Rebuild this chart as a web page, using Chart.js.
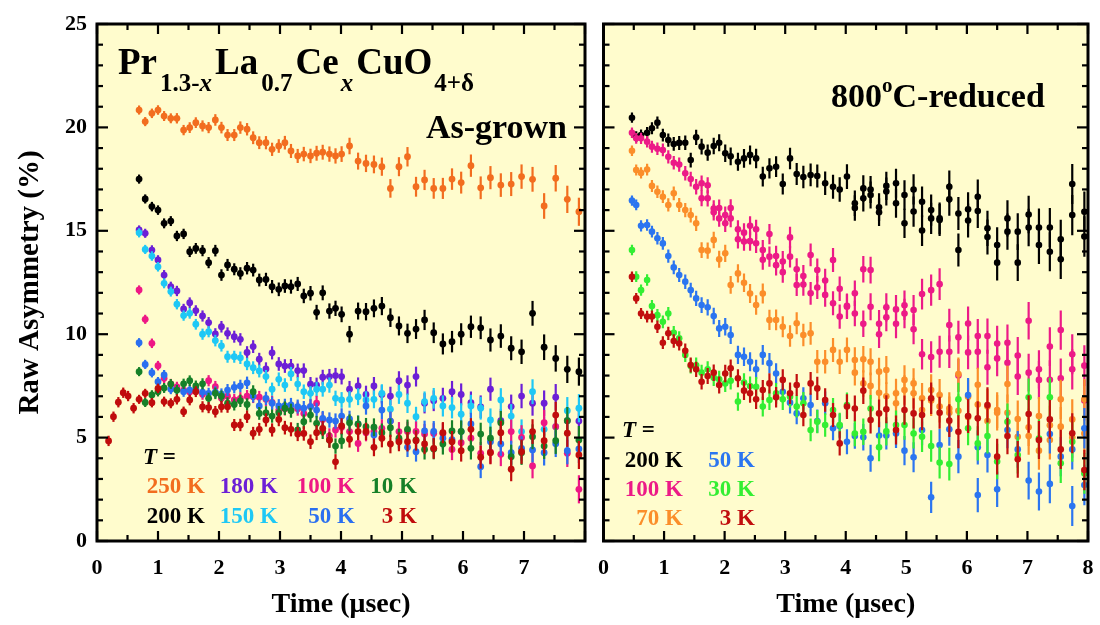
<!DOCTYPE html>
<html>
<head>
<meta charset="utf-8">
<script src="https://cdn.jsdelivr.net/npm/chart.js@4.4.0/dist/chart.umd.min.js"></script>
<style>
  body { margin: 0; background: #fff; width: 1100px; height: 625px; position: relative; overflow: hidden; }
  #wl { position: absolute; left: 0; top: 0; width: 595px; height: 625px; }
  #wr { position: absolute; left: 595px; top: 0; width: 505px; height: 625px; }
</style>
</head>
<body>
<div id="wl"><canvas id="left"></canvas></div>
<div id="wr"><canvas id="right"></canvas></div>
<script>
// ---- data: left panel (as-grown), time in usec, asymmetry in % ----
var tLeft = [0.19,0.27,0.35,0.43,0.51,0.60,
  0.69,0.79,0.90,1.00,1.10,1.21,1.31,1.42,1.52,1.62,1.73,1.83,1.94,2.04,2.14,2.25,2.35,2.46,2.56,2.66,2.77,2.87,2.98,3.08,3.18,3.29,3.39,3.50,3.60,3.70,3.81,3.91,4.01,
  4.14,4.28,4.41,4.54,4.67,4.81,4.95,5.09,5.23,5.37,5.52,5.67,5.82,5.97,6.13,6.29,6.45,6.62,6.79,6.96,7.14,7.33,7.52,7.71,7.90];
var errLeft = [0.25,0.25,0.25,0.25,0.25,0.25,
  0.22,0.22,0.23,0.23,0.24,0.24,0.25,0.25,0.26,0.26,0.27,0.27,0.28,0.28,0.29,0.29,0.3,0.3,0.31,0.31,0.32,0.32,0.33,0.33,0.34,0.34,0.35,0.35,0.36,0.36,0.37,0.37,0.38,
  0.40,0.41,0.42,0.43,0.44,0.45,0.46,0.47,0.48,0.49,0.5,0.51,0.52,0.53,0.54,0.55,0.56,0.57,0.58,0.59,0.6,0.62,0.64,0.66,0.68];

var l250 = [20.84,20.28,20.68,20.84,20.55,20.44,20.44,19.87,19.99,20.23,20.07,19.99,20.36,19.99,19.63,19.63,19.99,19.91,19.5,19.26,19.26,18.94,19.1,19.26,18.86,18.62,18.71,18.62,18.75,18.8,18.71,18.62,18.71,
  19.1,18.37,18.26,18.21,18.1,17.05,18.1,18.58,17.13,17.46,17.05,17.05,17.5,17.33,18.15,17.08,17.57,17.21,17.26,17.62,17.49,16.2,17.54,16.52,15.92];
var l200 = [17.5,16.54,16.17,16.0,15.36,15.47,14.75,14.85,13.99,14.15,14.04,13.46,14.04,12.86,13.35,13.14,12.94,13.19,13.1,12.62,12.65,12.3,12.17,12.33,12.3,12.43,11.85,11.98,11.06,12.0,11.12,11.25,10.96,
  10.0,11.12,11.09,11.25,11.36,10.8,10.4,10.04,10.25,10.69,10.07,9.53,9.64,10.0,10.36,10.31,9.72,9.91,9.32,9.15,11.01,9.37,8.83,8.3,8.19];
var l180 = [15.04,14.88,14.07,13.59,12.86,12.3,12.09,11.22,11.52,11.14,10.88,10.56,10.01,10.36,10.04,9.88,9.75,9.12,9.4,8.79,8.32,9.1,8.56,8.46,8.46,8.24,8.24,7.58,7.54,7.92,7.95,8.0,7.95,
  7.34,7.5,7.09,7.5,7.09,7.01,7.75,7.54,7.95,6.66,6.78,6.9,7.22,7.09,6.69,6.49,7.34,5.82,6.5,7.01,6.66,6.66,6.95,5.82,5.8];
var l150 = [14.9,14.1,13.78,13.26,12.46,12.06,11.45,10.9,11.01,10.48,10.0,10.12,9.69,9.44,8.91,8.91,8.86,8.56,8.38,8.22,7.95,7.34,7.82,7.54,8.08,7.59,7.22,7.14,7.34,7.34,7.54,6.9,6.82,
  6.85,6.98,6.82,6.85,7.14,6.37,7.09,6.66,6.01,6.74,6.9,6.53,6.45,6.13,6.53,6.42,5.85,6.82,6.04,5.29,7.22,5.4,5.53,6.3,6.42];
var l100 = [12.14,10.72,9.56,8.48,7.87,7.6,7.45,7.3,7.2,7.3,7.1,7.75,7.46,6.9,7.0,6.82,6.9,7.0,6.98,6.95,6.85,6.7,6.33,6.4,6.35,6.4,6.17,6.5,6.66,5.88,5.08,5.37,5.5,
  5.29,4.72,5.24,5.3,5.45,5.8,5.29,5.3,5.3,5.17,5.2,5.2,4.43,4.75,4.97,4.24,4.3,4.19,5.29,5.01,3.63,5.72,5.53,4.24,2.5];
var l50 = [9.59,8.54,8.14,7.7,8.03,7.34,7.3,7.22,7.3,7.34,7.2,7.14,7.2,7.1,7.3,7.43,7.5,7.65,7.01,6.53,6.9,6.66,6.53,6.55,6.58,6.5,6.42,6.5,6.33,5.93,5.85,5.8,6.04,
  5.9,5.66,6.53,5.13,6.33,5.8,4.88,4.53,4.32,5.33,5.3,4.97,4.9,5.29,5.66,3.59,4.8,4.69,4.27,4.48,4.4,4.27,4.7,4.37,4.45];
var l10 = [8.19,6.7,7.06,7.22,7.4,7.59,7.3,7.6,7.75,7.5,7.6,6.9,7.14,7.0,6.66,6.6,6.78,6.6,7.22,6.17,6.2,6.04,6.2,6.42,6.3,5.37,5.77,6.09,5.69,5.29,4.88,4.59,4.84,
  5.72,5.65,5.53,5.5,5.24,5.48,4.97,5.4,4.88,4.43,4.45,4.69,5.32,5.3,4.48,5.17,4.97,5.72,4.08,4.27,5.04,4.59,4.85,5.82,4.88];
var l3 = [4.84,6.01,6.71,7.17,7.01,6.42,
  6.85,7.14,6.69,7.38,6.74,6.66,6.85,6.25,6.82,7.22,6.49,6.45,6.25,6.49,6.49,5.61,5.61,6.01,5.21,5.4,5.85,5.37,5.88,5.48,5.4,5.17,5.2,4.8,5.24,5.45,4.88,3.83,5.56,
  4.92,5.29,5.3,4.53,4.97,4.69,4.8,4.8,4.85,4.69,4.48,5.24,4.8,4.37,5.4,4.05,4.27,5.24,3.47,4.32,5.29,4.85,6.09,5.21,4.16];

// ---- data: right panel (800C-reduced) ----
var tRight = [0.47,0.54,0.62,0.72,0.80,0.89,0.98,1.07,1.16,1.25,1.35,1.44,1.53,1.62,1.72,1.82,1.91,2.01,2.10,2.22,2.32,2.42,2.52,2.63,2.74,2.85,2.96,3.08,3.19,3.30,3.42,3.53,3.66,3.79,3.90,4.02,
  4.15,4.29,4.41,4.55,4.67,4.83,4.97,5.12,5.26,5.41,5.55,5.71,5.86,6.02,6.18,6.34,6.50,6.67,6.84,7.02,7.19,7.37,7.55,7.74,7.94];
var errRight = [0.25,0.26,0.27,0.28,0.29,0.30,0.31,0.32,0.33,0.34,0.35,0.36,0.37,0.38,0.39,0.40,0.41,0.42,0.43,0.44,0.45,0.46,0.47,0.48,0.49,0.50,0.51,0.52,0.53,0.54,0.55,0.56,0.57,0.58,0.59,0.60,
  0.62,0.64,0.65,0.67,0.68,0.70,0.71,0.73,0.74,0.76,0.77,0.79,0.80,0.82,0.83,0.85,0.86,0.88,0.89,0.91,0.92,0.94,0.95,0.97,0.98];

var r200 = [20.47,19.55,19.63,19.74,19.96,20.23,19.63,19.39,19.2,19.25,19.26,18.42,19.52,19.07,18.78,19.1,19.26,18.75,18.6,18.34,18.5,18.67,18.5,17.62,18.02,18.1,17.26,18.5,17.75,17.6,17.7,17.65,17.3,17.13,17.0,17.62,
  16.33,17.05,17.0,16.14,17.17,17.3,16.73,17.0,16.4,16.0,15.6,17.13,15.84,16.04,16.65,15.12,14.31,15.6,14.96,15.79,15.16,15.16,14.59,17.26,15.92];
var r200b = [16.1,16.57,16.73,15.9,16.9,16.33,15.36,15.93,15.01,15.6,15.52,16.52,14.07,15.5,15.96,14.7,13.46,14.96,13.46,15.16,14.31,13.99,13.62,15.76,14.72];
var r100 = [19.74,19.47,19.47,19.31,19.07,18.97,18.91,18.58,18.29,18.2,17.78,17.5,17.13,
  17.3,17.2,16.08,16.1,15.76,16.1,15.07,14.91,15.24,15.07,14.07,14.84,13.78,13.51,14.68,13.14,12.81,13.83,13.1,12.6,13.59,12.2,11.37,
  11.98,13.14,13.1,10.5,11.3,11.2,11.4,11.17,11.94,12.13,12.42,10.44,9.85,10.52,9.91,9.91,9.55,9.59,8.97,10.65,8.3,9.4,10.2,9.03,8.48];
var r100b = [16.57,16.57,15.9,15.6,15.36,15.6,14.59,14.48,14.5,14.4,13.6,13.75,13.34,13.0,13.75,12.38,12.4,11.98,12.26,11.9,11.5,10.85,11.33,
  11.0,10.5,11.33,10.0,10.82,10.5,11.0,10.24,9.03,8.9,9.15,9.15,8.0,9.12,9.15,8.4,8.83,8.62,7.95,8.14,7.79,7.8,7.87,8.3,6.8];
var r70 = [18.87,17.94,17.8,17.96,17.17,16.89,16.65,16.25,16.81,16.25,16.0,15.76,15.36,14.07,14.04,14.56,13.62,13.91,12.38,12.94,12.49,11.97,11.41,11.97,10.69,10.69,10.36,9.91,10.53,9.96,10.04,8.67,8.67,9.24,8.67,9.24,
  8.14,8.79,8.67,8.19,8.27,7.14,7.79,7.62,6.33,7.3,7.06,6.2,8.07,6.98,7.55,6.5,6.2,7.59,5.04,5.08,6.04,4.88,6.85,5.88,6.85];
var r70b = [8.75,7.62,7.5,7.17,7.0,6.66,7.3,7.14,6.9,6.8,6.5,6.4,6.3,6.0,6.6,5.8,6.33,6.2,5.9,5.5,4.37,5.6,5.53,5.0,5.2];
var r50 = [16.46,16.25,15.24,15.28,14.96,14.64,14.39,13.78,13.23,12.86,12.54,12.13,11.73,11.41,11.3,10.88,10.28,10.36,9.96,9.0,8.91,8.67,8.3,9.0,8.6,8.1,7.22,6.69,6.17,6.9,6.58,5.8,6.66,5.45,5.56,4.8,
  5.08,5.02,4.0,5.1,5.1,5.2,4.37,4.05,5.37,2.11,4.64,5.4,4.08,7.06,4.53,4.16,2.5,5.37,4.43,2.92,2.39,5.17,4.08,4.43,5.45];
var r50b = [null,null,null,null,null,null,null,null,null,null,null,null,null,null,2.22,null,null,null,null,null,null,2.76,null,1.69,2.71];
var r30 = [14.07,12.78,12.13,12.62,11.36,10.92,10.6,11.0,10.07,9.8,9.0,8.46,8.5,8.14,8.3,7.9,7.82,7.62,7.75,6.74,7.66,7.49,7.46,6.5,6.82,7.14,6.85,6.98,6.5,6.66,5.37,5.77,5.61,6.33,5.61,6.58,
  5.2,5.28,6.41,4.53,5.3,5.61,5.61,5.2,5.04,4.59,3.79,3.72,6.85,5.45,4.72,5.08,3.84,5.77,4.16,6.95,4.96,6.95,3.76,4.8,3.27];
var r3 = [12.78,11.73,11.0,10.85,10.85,10.36,9.59,10.04,9.67,9.55,9.2,8.51,8.3,7.7,7.98,8.14,7.54,8.1,8.35,7.87,7.27,7.14,6.85,7.3,7.62,6.95,7.79,7.14,7.54,6.09,7.62,7.38,6.82,6.09,4.72,6.5,
  6.41,7.27,5.85,6.17,6.37,5.37,6.33,6.17,6.09,6.9,6.2,5.82,5.28,6.04,5.93,6.58,4.08,5.08,3.95,6.14,4.88,5.88,4.43,5.21,3.43];

var leftLabels = ['250 K', '180 K', '100 K', '10 K', '200 K', '150 K', '50 K', '3 K'];
var rightLabels = ['200 K', '50 K', '100 K', '30 K', '70 K', '3 K'];

var C = {
  l250: '#f26d1f', l200: '#000000', l180: '#6c1fd6', l150: '#1ec8f5',
  l100: '#ee1785', l50: '#2a6ff0', l10: '#168028', l3: '#c00c0c',
  r200: '#000000', r100: '#ec1a87', r70: '#fb8e2a', r50: '#2b75f0', r30: '#33ee33', r3: '#c10e0e'
};

var BG = '#fffccd';
var SERIF = '"Liberation Serif", "Times New Roman", serif';

// series values are aligned to the end of the time array
function series(times, vals, err, color, order, radius) {
  var off = times.length - vals.length;
  var data = [], e = [];
  vals.forEach(function(v, i) {
    if (v === null) return;
    data.push({x: times[off + i], y: v});
    e.push(err[off + i]);
  });
  return {
    data: data, err: e, order: order,
    backgroundColor: color, borderColor: color,
    pointRadius: radius, pointBorderWidth: 0, pointHoverRadius: radius,
    showLine: false
  };
}

var errorBars = {
  id: 'errorBars',
  beforeDatasetDraw: function(chart, args) {
    var ds = chart.data.datasets[args.index];
    if (!ds.err) return;
    var ys = chart.scales.y, a = chart.chartArea, ctx = chart.ctx;
    ctx.save();
    ctx.beginPath();
    ctx.rect(a.left, a.top, a.right - a.left, a.bottom - a.top);
    ctx.clip();
    ctx.strokeStyle = ds.borderColor;
    ctx.lineWidth = 2.2;
    args.meta.data.forEach(function(pt, i) {
      var d = ds.data[i];
      ctx.beginPath();
      ctx.moveTo(pt.x, ys.getPixelForValue(d.y - ds.err[i]));
      ctx.lineTo(pt.x, ys.getPixelForValue(d.y + ds.err[i]));
      ctx.stroke();
    });
    ctx.restore();
  }
};

function drawRuns(ctx, x, y, runs) {
  runs.forEach(function(r) {
    ctx.font = (r.it ? 'italic ' : '') + 'bold ' + r.size + 'px ' + SERIF;
    ctx.fillText(r.t, x, y + (r.dy || 0));
    x += ctx.measureText(r.t).width + (r.gap || 0);
  });
}

function frameAndTicks(chart) {
  var ctx = chart.ctx, a = chart.chartArea, xs = chart.scales.x, ys = chart.scales.y;
  ctx.save();
  ctx.strokeStyle = '#000';
  ctx.lineWidth = 2.2;
  function seg(x1, y1, x2, y2) { ctx.beginPath(); ctx.moveTo(x1, y1); ctx.lineTo(x2, y2); ctx.stroke(); }
  for (var i = 0; i <= 16; i++) {
    var v = i * 0.5, px = xs.getPixelForValue(v), len = (i % 2 === 0) ? 10 : 6;
    seg(px, a.bottom, px, a.bottom - len);
    seg(px, a.top, px, a.top + len);
  }
  for (var j = 0; j <= 25; j++) {
    var py = ys.getPixelForValue(j), ln = (j % 5 === 0) ? 11 : 6;
    seg(a.left, py, a.left + ln, py);
    seg(a.right, py, a.right - ln, py);
  }
  ctx.lineWidth = 3;
  ctx.strokeRect(a.left, a.top, a.right - a.left, a.bottom - a.top);
  ctx.restore();
}

var background = {
  id: 'background',
  beforeDatasetsDraw: function(chart) {
    var a = chart.chartArea, ctx = chart.ctx;
    ctx.save();
    ctx.fillStyle = BG;
    ctx.fillRect(a.left, a.top, a.right - a.left, a.bottom - a.top);
    ctx.restore();
  },
  afterDatasetsDraw: function(chart) { frameAndTicks(chart); }
};

var leftText = {
  id: 'leftText',
  afterDraw: function(chart) {
    var ctx = chart.ctx;
    ctx.save();
    ctx.fillStyle = '#000';
    ctx.textAlign = 'left';
    ctx.textBaseline = 'alphabetic';
    drawRuns(ctx, 118, 74, [
      {t: 'Pr', size: 37, gap: 3}, {t: '1.3-', size: 25, dy: 17}, {t: 'x', size: 25, dy: 17, it: true, gap: 3},
      {t: 'La', size: 37, gap: 3}, {t: '0.7', size: 25, dy: 17, gap: 3},
      {t: 'Ce', size: 37, gap: 2}, {t: 'x', size: 25, dy: 17, it: true, gap: 3},
      {t: 'CuO', size: 37, gap: 2}, {t: '4+\u03b4', size: 25, dy: 17}
    ]);
    ctx.textAlign = 'right';
    ctx.font = 'bold 34px ' + SERIF;
    ctx.fillText('As-grown', 567, 138);
    ctx.textAlign = 'left';
    drawRuns(ctx, 143, 464, [{t: 'T', size: 23, it: true}, {t: ' =', size: 23}]);
    ctx.textAlign = 'right';
    ctx.font = 'bold 23px ' + SERIF;
    var cols = [205, 278, 355, 417];
    var colors = [C.l250, C.l180, C.l100, C.l10, C.l200, C.l150, C.l50, C.l3];
    leftLabels.forEach(function(lab, i) {
      ctx.fillStyle = colors[i];
      ctx.fillText(lab, cols[i % 4], i < 4 ? 493 : 523);
    });
    ctx.restore();
  }
};

var rightText = {
  id: 'rightText',
  afterDraw: function(chart) {
    var ctx = chart.ctx, o = -595;
    ctx.save();
    ctx.fillStyle = '#000';
    ctx.textAlign = 'left';
    drawRuns(ctx, 831 + o, 107, [
      {t: '800', size: 34}, {t: 'o', size: 21, dy: -15}, {t: 'C-reduced', size: 34}
    ]);
    drawRuns(ctx, 622 + o, 437, [{t: 'T', size: 23, it: true}, {t: ' =', size: 23}]);
    ctx.textAlign = 'right';
    ctx.font = 'bold 23px ' + SERIF;
    var cols = [683, 755];
    var rows = [467, 496, 525];
    var colors = [C.r200, C.r50, C.r100, C.r30, C.r70, C.r3];
    rightLabels.forEach(function(lab, i) {
      ctx.fillStyle = colors[i];
      ctx.fillText(lab, cols[i % 2] + o, rows[Math.floor(i / 2)]);
    });
    ctx.restore();
  }
};

var tickFont = {family: SERIF, size: 22, weight: 'bold'};
var titleFont = {family: SERIF, size: 28, weight: 'bold'};

function makeOptions(showY, showLast, pad) {
  var y = {
    type: 'linear', min: 0, max: 25,
    display: showY,
    grid: {display: false, drawTicks: false},
    border: {display: false},
    ticks: {stepSize: 5, padding: 10, color: '#000', font: tickFont},
    title: {display: true, text: 'Raw Asymmetry (%)', color: '#000', font: {family: SERIF, size: 29, weight: 'bold'}, padding: {top: 13, bottom: 0}}
  };
  if (showY) y.afterFit = function(s) { s.width = 97; };
  return {
    responsive: true,
    maintainAspectRatio: false,
    animation: false,
    devicePixelRatio: 1,
    layout: {padding: pad},
    plugins: {legend: {display: false}, tooltip: {enabled: false}},
    scales: {
      x: {
        type: 'linear', min: 0, max: 8,
        grid: {display: false, drawTicks: false},
        border: {display: false},
        ticks: {
          stepSize: 1, autoSkip: false, maxRotation: 0, padding: 14, color: '#000', font: tickFont,
          callback: function(v) { return (!showLast && v === 8) ? '' : v; }
        },
        title: {display: true, text: 'Time (\u03bcsec)', color: '#000', font: titleFont, padding: {top: 0, bottom: 3}},
        afterFit: function(s) { s.height = 84; s.paddingLeft = 0; s.paddingRight = 0; }
      },
      y: y
    }
  };
}

var leftSets = [
  series(tLeft, l3, errLeft, C.l3, 0, 3.4),
  series(tLeft, l10, errLeft, C.l10, 1, 3.4),
  series(tLeft, l50, errLeft, C.l50, 2, 3.4),
  series(tLeft, l100, errLeft, C.l100, 3, 3.4),
  series(tLeft, l150, errLeft, C.l150, 4, 3.4),
  series(tLeft, l180, errLeft, C.l180, 5, 3.4),
  series(tLeft, l200, errLeft, C.l200, 6, 3.4),
  series(tLeft, l250, errLeft, C.l250, 7, 3.4)
];

var rightSets = [
  series(tRight, r3, errRight, C.r3, 0, 3.3),
  series(tRight, r30, errRight, C.r30, 1, 3.3),
  series(tRight, r50, errRight, C.r50, 2, 3.3),
  series(tRight, r50b, errRight, C.r50, 2, 3.3),
  series(tRight, r70, errRight, C.r70, 3, 3.3),
  series(tRight, r70b, errRight, C.r70, 3, 3.3),
  series(tRight, r100, errRight, C.r100, 4, 3.3),
  series(tRight, r100b, errRight, C.r100, 4, 3.3),
  series(tRight, r200, errRight, C.r200, 5, 3.3),
  series(tRight, r200b, errRight, C.r200, 5, 3.3)
];

new Chart(document.getElementById('left').getContext('2d'), {
  type: 'scatter',
  data: {datasets: leftSets},
  options: makeOptions(true, false, {left: 0, right: 10, top: 24, bottom: 0}),
  plugins: [background, errorBars, leftText]
});

new Chart(document.getElementById('right').getContext('2d'), {
  type: 'scatter',
  data: {datasets: rightSets},
  options: makeOptions(false, true, {left: 8.5, right: 12, top: 24, bottom: 0}),
  plugins: [background, errorBars, rightText]
});
</script>
</body>
</html>
